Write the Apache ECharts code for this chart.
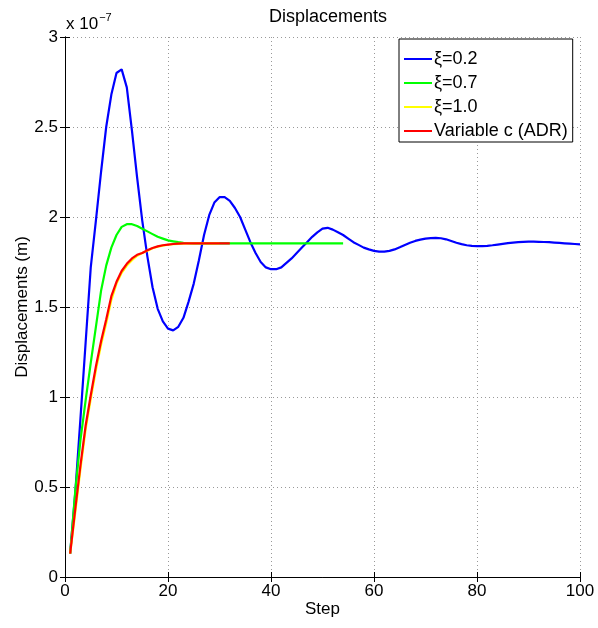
<!DOCTYPE html>
<html>
<head>
<meta charset="utf-8">
<script src="https://cdn.jsdelivr.net/npm/echarts@6/dist/echarts.min.js"></script>
<style>
  html, body { margin: 0; padding: 0; background: #fff; }
  #chart { width: 598px; height: 628px; }
</style>
</head>
<body>
<div id="chart"></div>
<script>
// values are in units of 1e-7 m, one per step starting at step 1
const xi02 = [0.13, 0.47, 0.88, 1.30, 1.72, 1.98, 2.25, 2.50, 2.68, 2.80,
  2.82, 2.72, 2.48, 2.22, 1.98, 1.78, 1.61, 1.49, 1.42, 1.38,
  1.37, 1.39, 1.44, 1.53, 1.63, 1.76, 1.90, 2.01, 2.08, 2.11,
  2.11, 2.09, 2.05, 2.00, 1.93, 1.86, 1.80, 1.75, 1.72, 1.71,
  1.71, 1.72, 1.745, 1.77, 1.80, 1.83, 1.86, 1.89, 1.915, 1.935,
  1.94, 1.93, 1.915, 1.90, 1.88, 1.86, 1.845, 1.83, 1.82, 1.812,
  1.808, 1.808, 1.812, 1.82, 1.832, 1.845, 1.857, 1.867, 1.874, 1.88,
  1.883, 1.884, 1.882, 1.876, 1.867, 1.857, 1.849, 1.843, 1.84, 1.838,
  1.838, 1.84, 1.843, 1.847, 1.851, 1.855, 1.858, 1.86, 1.862, 1.863,
  1.863, 1.862, 1.861, 1.86, 1.858, 1.856, 1.854, 1.852, 1.85, 1.848];
const xi07 = [0.13, 0.48, 0.76, 0.98, 1.19, 1.39, 1.59, 1.73, 1.83, 1.90,
  1.945, 1.96, 1.96, 1.95, 1.935, 1.92, 1.905, 1.89, 1.88, 1.87,
  1.865, 1.86, 1.857, 1.855, 1.854, 1.853, 1.853, 1.853, 1.853, 1.853,
  1.853, 1.853, 1.853, 1.853, 1.853, 1.853, 1.853, 1.853, 1.853, 1.853,
  1.853, 1.853, 1.853, 1.853, 1.853, 1.853, 1.853, 1.853, 1.853, 1.853,
  1.853, 1.853, 1.853, 1.853];
const xi10 = [0.13, 0.36, 0.60, 0.82, 0.99, 1.15, 1.29, 1.41, 1.54, 1.63,
  1.69, 1.73, 1.76, 1.785, 1.80, 1.813, 1.826, 1.835, 1.841, 1.846,
  1.849, 1.851, 1.852, 1.853, 1.853, 1.853, 1.853, 1.853, 1.853, 1.853];
const adr = [0.13, 0.38, 0.62, 0.84, 1.01, 1.17, 1.31, 1.43, 1.56, 1.64,
  1.70, 1.74, 1.77, 1.79, 1.80, 1.815, 1.828, 1.837, 1.843, 1.847,
  1.85, 1.852, 1.853, 1.853, 1.853, 1.853, 1.853, 1.853, 1.853, 1.853,
  1.853, 1.853];
const seriesNames = ['\u03be=0.2', '\u03be=0.7', '\u03be=1.0', 'Variable c (ADR)'];
const seriesColors = ['#0000ff', '#00ff00', '#ffff00', '#ff0000'];
const xTicks = [0, 20, 40, 60, 80, 100];
const yTicks = [0, 0.5, 1, 1.5, 2, 2.5, 3];

const font = "'Liberation Sans', Arial, Helvetica, sans-serif";

function toPairs(vals) {
  return vals.map((v, i) => [i + 1, v]);
}

const chart = echarts.init(document.getElementById('chart'));

const allVals = [xi02, xi07, xi10, adr];

const baseAxis = {
  axisLine: { show: true, lineStyle: { color: '#000', width: 1 } },
  axisTick: { show: true, inside: true, length: 5, lineStyle: { color: '#000' } },
  axisLabel: { color: '#000', fontSize: 17, fontFamily: font },
};

const option = {
  animation: false,
  backgroundColor: '#fff',
  title: {
    text: 'Displacements',
    left: 323,
    top: 3,
    textAlign: 'center',
    textStyle: { fontSize: 18, fontWeight: 'normal', color: '#000', fontFamily: font }
  },
  grid: { left: 65, right: 18, top: 37, bottom: 51 },
  legend: {
    data: seriesNames,
    orient: 'vertical',
    left: 399,
    top: 39,
    itemWidth: 28,
    itemHeight: 2,
    itemGap: 6,
    icon: 'rect',
    padding: [11, 5, 2, 5],
    borderColor: '#000',
    borderWidth: 1,
    borderRadius: 0,
    backgroundColor: '#fff',
    textStyle: { fontSize: 18, color: '#000', fontFamily: font, padding: [0, 0, 0, -3] }
  },
  xAxis: [
    Object.assign({}, baseAxis, {
      type: 'value', min: 0, max: 100, interval: 20, position: 'bottom',
      name: 'Step', nameLocation: 'middle', nameGap: 24, nameMoveOverlap: false,
      nameTextStyle: { fontSize: 17, color: '#000', fontFamily: font },
      axisLabel: { color: '#000', fontSize: 17, fontFamily: font, margin: 6,
        formatter: v => xTicks.indexOf(v) >= 0 ? String(v) : '' },
      splitLine: { show: true, lineStyle: { type: [1, 3], color: '#999' } }
    }),
    Object.assign({}, baseAxis, {
      type: 'value', min: 0, max: 100, interval: 20, position: 'top',
      axisLabel: { show: false }, splitLine: { show: false }
    })
  ],
  yAxis: [
    Object.assign({}, baseAxis, {
      type: 'value', min: 0, max: 3, interval: 0.5, position: 'left',
      name: 'Displacements (m)', nameLocation: 'middle', nameGap: 34, nameRotate: 90,
      nameMoveOverlap: false,
      nameTextStyle: { fontSize: 17, color: '#000', fontFamily: font },
      axisLabel: { color: '#000', fontSize: 17, fontFamily: font, margin: 7,
        formatter: v => yTicks.indexOf(v) >= 0 ? String(v) : '' },
      splitLine: { show: true, lineStyle: { type: [1, 3], color: '#999' } }
    }),
    Object.assign({}, baseAxis, {
      type: 'value', min: 0, max: 3, interval: 0.5, position: 'right',
      axisLabel: { show: false }, splitLine: { show: false }
    })
  ],
  series: allVals.map((vals, i) => ({
    name: seriesNames[i],
    type: 'line',
    data: toPairs(vals),
    showSymbol: false,
    symbol: 'none',
    color: seriesColors[i],
    lineStyle: { width: 2.2, color: seriesColors[i] },
    z: 2 + i
  })),
  graphic: [{
    type: 'text',
    left: 66,
    top: 12,
    style: {
      text: '{b|x 10}{s|\u22127}',
      rich: {
        b: { fontSize: 17, fontFamily: font, fill: '#000', verticalAlign: 'bottom' },
        s: { fontSize: 11, fontFamily: font, fill: '#000', verticalAlign: 'top', padding: [0, 0, 10, 1] }
      }
    }
  }]
};

chart.setOption(option);
</script>
</body>
</html>
